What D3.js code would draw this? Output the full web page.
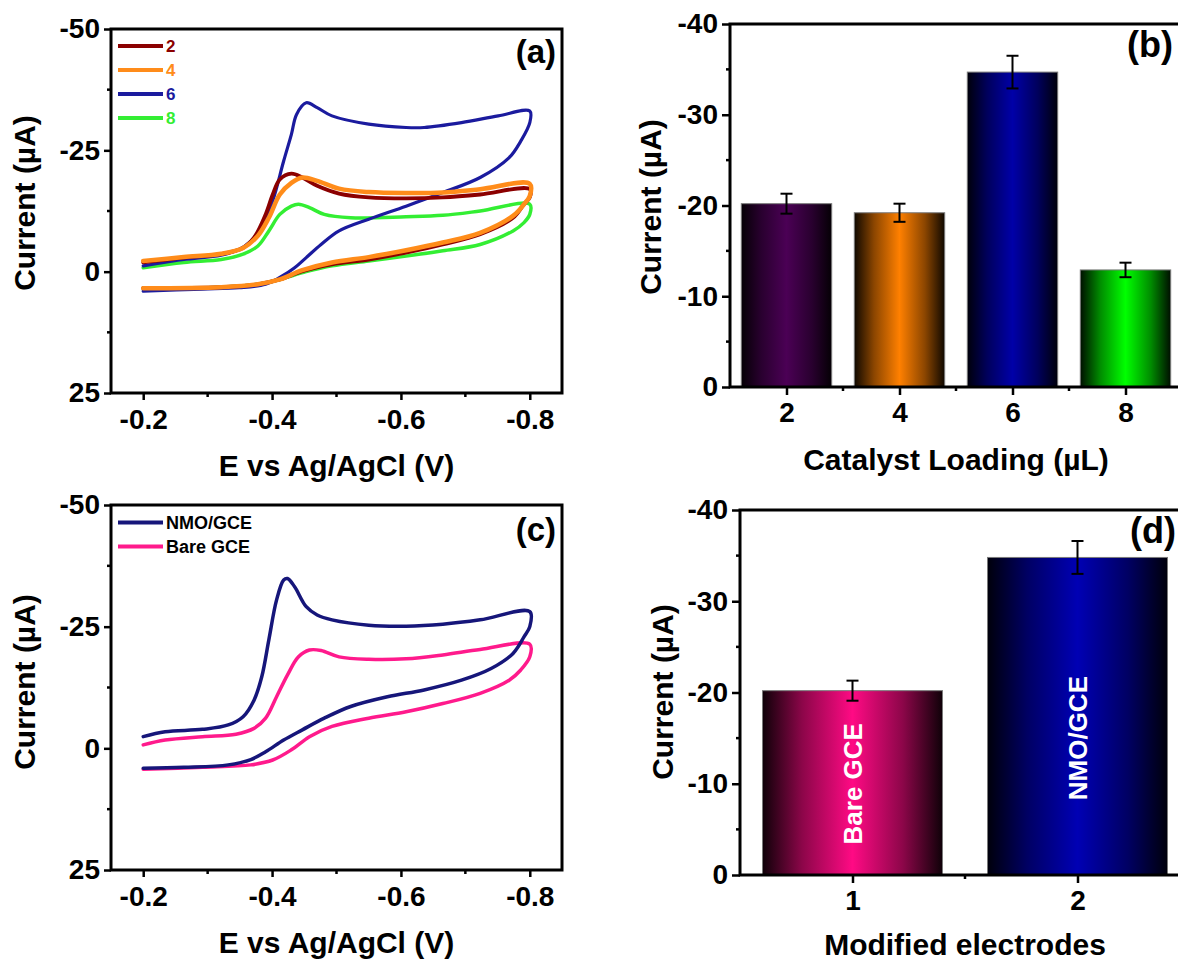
<!DOCTYPE html>
<html>
<head>
<meta charset="utf-8">
<script src="https://cdn.jsdelivr.net/npm/d3@7"></script>
<style>
  html, body { margin: 0; padding: 0; background: #fff; }
  svg text { font-family: "Liberation Sans", Arial, Helvetica, sans-serif; font-weight: bold; }
</style>
</head>
<body>
<svg id="fig" width="1178" height="960"></svg>
<script>
// ---------- data ----------
// (a) cyclic voltammograms for different catalyst loadings: [E (V), I (µA)]
const cvLoading2 = [[-0.2,-1.9],[-0.263,-2.9],[-0.321,-3.6],[-0.355,-4.9],[-0.372,-7.0],[-0.390,-11.8],[-0.401,-15.9],[-0.412,-19.0],[-0.430,-20.2],[-0.447,-19.4],[-0.470,-17.7],[-0.504,-16.1],[-0.550,-15.3],[-0.608,-15.1],[-0.665,-15.3],[-0.723,-15.9],[-0.8,-17.0],
  [-0.8,-15.3],[-0.791,-13.9],[-0.774,-11.1],[-0.723,-7.7],[-0.665,-5.6],[-0.608,-3.9],[-0.550,-2.5],[-0.493,-1.5],[-0.447,-0.1],[-0.412,1.6],[-0.378,2.6],[-0.321,3.2],[-0.2,3.4]];
const cvLoading4 = [[-0.2,-2.2],[-0.263,-3.0],[-0.321,-3.7],[-0.355,-4.9],[-0.378,-7.4],[-0.395,-11.1],[-0.412,-15.9],[-0.430,-18.3],[-0.447,-19.4],[-0.470,-18.7],[-0.504,-17.1],[-0.550,-16.4],[-0.608,-16.2],[-0.665,-16.3],[-0.723,-17.0],[-0.8,-18.1],
  [-0.8,-15.6],[-0.791,-13.9],[-0.774,-11.5],[-0.723,-8.0],[-0.665,-6.0],[-0.608,-4.4],[-0.550,-3.0],[-0.493,-1.9],[-0.447,-0.3],[-0.412,1.6],[-0.378,2.6],[-0.321,3.2],[-0.2,3.4]];
const cvLoading6 = [[-0.2,-1.2],[-0.263,-2.5],[-0.321,-3.4],[-0.349,-4.6],[-0.367,-6.3],[-0.384,-9.1],[-0.401,-14.6],[-0.418,-22.8],[-0.430,-28.3],[-0.438,-32.4],[-0.453,-34.8],[-0.470,-33.8],[-0.493,-32.1],[-0.550,-30.4],[-0.608,-29.7],[-0.636,-29.7],[-0.694,-30.7],[-0.751,-32.1],[-0.8,-33.1],
  [-0.8,-30.7],[-0.786,-26.9],[-0.768,-23.5],[-0.723,-19.4],[-0.665,-16.3],[-0.608,-13.5],[-0.550,-10.8],[-0.504,-8.4],[-0.476,-5.6],[-0.453,-2.9],[-0.435,-0.8],[-0.412,1.2],[-0.390,2.6],[-0.349,3.3],[-0.292,3.6],[-0.2,4.0]];
const cvLoading8 = [[-0.2,-0.8],[-0.263,-1.9],[-0.321,-2.5],[-0.355,-3.6],[-0.378,-5.3],[-0.395,-8.4],[-0.412,-11.8],[-0.430,-13.5],[-0.441,-13.9],[-0.458,-13.2],[-0.481,-11.8],[-0.522,-11.1],[-0.608,-11.3],[-0.665,-11.6],[-0.723,-12.5],[-0.8,-13.9],
  [-0.8,-11.8],[-0.791,-10.1],[-0.774,-8.4],[-0.723,-5.6],[-0.665,-4.3],[-0.608,-3.2],[-0.550,-2.2],[-0.493,-1.2],[-0.453,0.0],[-0.412,1.6],[-0.378,2.6],[-0.321,3.2],[-0.2,3.4]];
const loadingLegend = ["2", "4", "6", "8"];
const loadingLineColors = ["#8b0000", "#ff8c1a", "#1b1b9e", "#33ee33"];

// (b) peak current vs catalyst loading
const loadings = [2, 4, 6, 8];
const loadingCurrent = [-20.2, -19.2, -34.7, -12.9];
const loadingError = [1.1, 1.0, 1.8, 0.8];
const loadingBarColors = ["#4b0055", "#ff8000", "#0000a8", "#00ff00"];

// (c) cyclic voltammograms of modified and bare electrodes
const cvNMO = [[-0.2,-2.4],[-0.234,-3.4],[-0.292,-3.9],[-0.332,-4.8],[-0.355,-6.5],[-0.372,-9.9],[-0.384,-14.7],[-0.395,-22.3],[-0.407,-30.5],[-0.418,-34.6],[-0.424,-34.9],[-0.435,-33.2],[-0.453,-29.1],[-0.470,-27.4],[-0.493,-26.4],[-0.550,-25.3],[-0.608,-25.1],[-0.665,-25.5],[-0.723,-26.4],[-0.8,-28.1],
  [-0.8,-25.0],[-0.791,-22.9],[-0.774,-19.5],[-0.740,-16.4],[-0.694,-14.0],[-0.636,-12.0],[-0.579,-10.6],[-0.522,-8.6],[-0.481,-6.2],[-0.447,-3.8],[-0.418,-1.7],[-0.390,0.7],[-0.367,2.3],[-0.332,3.4],[-0.263,3.9],[-0.2,4.1]];
const cvBare = [[-0.2,-0.7],[-0.234,-1.7],[-0.292,-2.4],[-0.344,-2.9],[-0.372,-4.1],[-0.390,-6.2],[-0.407,-10.6],[-0.424,-15.1],[-0.441,-18.8],[-0.458,-20.2],[-0.476,-20.1],[-0.504,-18.8],[-0.550,-18.3],[-0.608,-18.4],[-0.665,-19.2],[-0.723,-20.3],[-0.8,-21.4],
  [-0.8,-18.8],[-0.786,-16.1],[-0.768,-14.0],[-0.723,-11.3],[-0.665,-9.2],[-0.608,-7.5],[-0.550,-6.2],[-0.493,-4.5],[-0.458,-2.4],[-0.430,0.3],[-0.401,2.4],[-0.367,3.4],[-0.292,3.9],[-0.2,4.3]];
const electrodeLegend = ["NMO/GCE", "Bare GCE"];
const electrodeLineColors = ["#16167a", "#ff1a8c"];

// (d) peak current for bare and modified electrodes
const electrodes = [1, 2];
const electrodeNames = ["Bare GCE", "NMO/GCE"];
const electrodeCurrent = [-20.2, -34.8];
const electrodeError = [1.1, 1.8];
const electrodeBarColors = ["#ff0a84", "#0000b4"];

// axis ticks
const cvTicksE = [-0.2, -0.4, -0.6, -0.8];
const cvMinorE = [-0.3, -0.5, -0.7];
const cvTicksI = [-50, -25, 0, 25];
const cvMinorI = [-37.5, -12.5, 12.5];
const barTicksI = [-40, -30, -20, -10, 0];
const barMinorI = [-35, -25, -15, -5];

// ---------- drawing ----------
const svg = d3.select("#fig");
svg.append("rect").attr("width", 1178).attr("height", 960).attr("fill", "#fff");
const defs = svg.append("defs");
const TICK_FONT = 28, TITLE_FONT = 30;

function styleAxis(g) {
  g.select(".domain").remove();
  g.selectAll(".tick line").attr("stroke", "#000").attr("stroke-width", 2.5);
  g.selectAll(".tick text").attr("fill", "#000").style("font-size", TICK_FONT + "px");
}

function minorTicks(g, scale, values, orient, pos) {
  values.forEach(v => {
    const p = scale(v);
    if (orient === "bottom") {
      g.append("line").attr("x1", p).attr("x2", p).attr("y1", pos).attr("y2", pos + 4)
        .attr("stroke", "#000").attr("stroke-width", 2.5);
    } else {
      g.append("line").attr("y1", p).attr("y2", p).attr("x1", pos).attr("x2", pos - 4)
        .attr("stroke", "#000").attr("stroke-width", 2.5);
    }
  });
}

function frame(box, g) {
  g.append("rect").attr("x", box.l).attr("y", box.t)
    .attr("width", box.r - box.l).attr("height", box.b - box.t)
    .attr("fill", "none").attr("stroke", "#000").attr("stroke-width", 3);
}

function yTitle(g, x, y, text) {
  g.append("text").attr("transform", `translate(${x},${y}) rotate(-90)`)
    .attr("text-anchor", "middle").style("font-size", TITLE_FONT + "px").text(text);
}

function xTitle(g, x, y, text) {
  g.append("text").attr("x", x).attr("y", y).attr("text-anchor", "middle")
    .style("font-size", TITLE_FONT + "px").text(text);
}

function tag(g, x, y, size, text) {
  g.append("text").attr("x", x).attr("y", y).attr("text-anchor", "end")
    .style("font-size", size + "px").text(text);
}

function cvPanel(opt) {
  const box = opt.box;
  const g = svg.append("g");
  const x = d3.scaleLinear().domain([-0.15, -0.85]).range([box.l, box.r]);
  const y = d3.scaleLinear().domain([25, -50]).range([box.b, box.t]);

  const line = d3.line().x(d => x(d[0])).y(d => y(d[1])).curve(d3.curveCatmullRom.alpha(0.5));
  opt.order.forEach(i => {
    g.append("path").attr("d", line(opt.curves[i])).attr("fill", "none")
      .attr("stroke", opt.colors[i]).attr("stroke-width", opt.widths[i])
      .attr("stroke-linejoin", "round").attr("stroke-linecap", "round");
  });

  const ax = g.append("g").attr("transform", `translate(0,${box.b})`)
    .call(d3.axisBottom(x).tickValues(cvTicksE).tickSize(7).tickSizeOuter(0).tickPadding(9)
      .tickFormat(d => d.toFixed(1)));
  styleAxis(ax);
  minorTicks(g, x, cvMinorE, "bottom", box.b);
  const ay = g.append("g").attr("transform", `translate(${box.l},0)`)
    .call(d3.axisLeft(y).tickValues(cvTicksI).tickSize(7).tickSizeOuter(0).tickPadding(4)
      .tickFormat(d => String(d)));
  styleAxis(ay);
  minorTicks(g, y, cvMinorI, "left", box.l);
  frame(box, g);

  // legend
  opt.legend.forEach((name, i) => {
    const ly = opt.legendY + i * opt.legendStep;
    g.append("line").attr("x1", 118).attr("x2", 163).attr("y1", ly).attr("y2", ly)
      .attr("stroke", opt.colors[i]).attr("stroke-width", 4);
    g.append("text").attr("x", 166).attr("y", ly).attr("dy", "0.36em")
      .style("font-size", opt.legendFont + "px")
      .attr("fill", opt.legendColored ? opt.colors[i] : "#000").text(name);
  });

  yTitle(g, 35, opt.yTitleY, "Current (\u00b5A)");
  xTitle(g, (box.l + box.r) / 2, opt.xTitleY, opt.xTitle);
  tag(g, 556, opt.tagY, 33, opt.tag);
}

function gradient(id, color) {
  const c = d3.rgb(color);
  const dark = d3.rgb(c.r * 0.06, c.g * 0.06, c.b * 0.06);
  const mid = d3.rgb(c.r * 0.55, c.g * 0.55, c.b * 0.55);
  const lg = defs.append("linearGradient").attr("id", id)
    .attr("x1", "0%").attr("x2", "100%").attr("y1", "0%").attr("y2", "0%");
  [[0, dark], [0.22, mid], [0.5, c], [0.78, mid], [1, dark]].forEach(([o, col]) =>
    lg.append("stop").attr("offset", o).attr("stop-color", col.toString()));
  return `url(#${id})`;
}

function barPanel(opt) {
  const box = opt.box;
  const g = svg.append("g");
  const x = d3.scaleLinear().domain(opt.xDomain).range([box.l, box.r]);
  const y = d3.scaleLinear().domain([0, -40]).range([box.b, box.t]);
  const step = x(opt.cats[1]) - x(opt.cats[0]);
  const bw = step * 0.8;

  opt.cats.forEach((c, i) => {
    const fill = gradient(opt.id + i, opt.colors[i]);
    g.append("rect").attr("x", x(c) - bw / 2).attr("y", y(opt.values[i]))
      .attr("width", bw).attr("height", y(0) - y(opt.values[i]))
      .attr("fill", fill).attr("stroke", "#7a7a7a").attr("stroke-width", 1);
    const lo = y(opt.values[i] + opt.errors[i]), hi = y(opt.values[i] - opt.errors[i]);
    g.append("line").attr("x1", x(c)).attr("x2", x(c)).attr("y1", lo).attr("y2", hi)
      .attr("stroke", "#000").attr("stroke-width", 2);
    [lo, hi].forEach(v => g.append("line").attr("x1", x(c) - 6).attr("x2", x(c) + 6)
      .attr("y1", v).attr("y2", v).attr("stroke", "#000").attr("stroke-width", 2));
    if (opt.barLabels) {
      g.append("text")
        .attr("transform", `translate(${x(c)},${y(opt.barLabelAt[i])}) rotate(-90)`)
        .attr("text-anchor", "middle").attr("dy", "0.36em").attr("fill", "#fff")
        .style("font-size", "26px").text(opt.barLabels[i]);
    }
  });

  const ax = g.append("g").attr("transform", `translate(0,${box.b})`)
    .call(d3.axisBottom(x).tickValues(opt.cats).tickSize(8).tickSizeOuter(0).tickPadding(7)
      .tickFormat(d => String(d)));
  styleAxis(ax);
  minorTicks(g, x, opt.minorX, "bottom", box.b);
  const ay = g.append("g").attr("transform", `translate(${box.l},0)`)
    .call(d3.axisLeft(y).tickValues(barTicksI).tickSize(8).tickSizeOuter(0).tickPadding(4)
      .tickFormat(d => String(d)));
  styleAxis(ay);
  minorTicks(g, y, barMinorI, "left", box.l);
  frame(box, g);

  yTitle(g, opt.yTitleX, opt.yTitleY, "Current (\u00b5A)");
  xTitle(g, (box.l + box.r) / 2, opt.xTitleY, opt.xTitle);
  tag(g, opt.tagX, opt.tagY, 36, opt.tag);
}

// (a)
cvPanel({
  box: { l: 111, r: 562, t: 29, b: 393 },
  curves: [cvLoading2, cvLoading4, cvLoading6, cvLoading8],
  colors: loadingLineColors,
  widths: [3.8, 4.5, 3.2, 3.5],
  order: [3, 2, 0, 1],
  legend: loadingLegend, legendY: 46, legendStep: 24, legendFont: 17, legendColored: true,
  yTitleY: 203, xTitleY: 476, xTitle: "E vs Ag/AgCl (V)", tagY: 63, tag: "(a)"
});

// (b)
barPanel({
  box: { l: 730, r: 1182, t: 24, b: 387 },
  xDomain: [1, 9], cats: loadings, minorX: [3, 5, 7],
  values: loadingCurrent, errors: loadingError, colors: loadingBarColors, id: "gb",
  yTitleX: 661, yTitleY: 207, xTitleY: 470, xTitle: "Catalyst Loading (\u00b5L)",
  tagX: 1173, tagY: 57, tag: "(b)"
});

// (c)
cvPanel({
  box: { l: 111, r: 562, t: 505, b: 870 },
  curves: [cvNMO, cvBare],
  colors: electrodeLineColors,
  widths: [3.5, 3.5],
  order: [1, 0],
  legend: electrodeLegend, legendY: 522.5, legendStep: 24, legendFont: 18, legendColored: false,
  yTitleY: 682, xTitleY: 953, xTitle: "E  vs Ag/AgCl (V)", tagY: 541, tag: "(c)"
});

// (d)
barPanel({
  box: { l: 740, r: 1190, t: 510, b: 875 },
  xDomain: [0.5, 2.5], cats: electrodes, minorX: [1.5],
  values: electrodeCurrent, errors: electrodeError, colors: electrodeBarColors, id: "gd",
  barLabels: electrodeNames, barLabelAt: [-10, -15],
  yTitleX: 673, yTitleY: 692, xTitleY: 955, xTitle: "Modified electrodes",
  tagX: 1176, tagY: 543, tag: "(d)"
});
</script>
</body>
</html>
